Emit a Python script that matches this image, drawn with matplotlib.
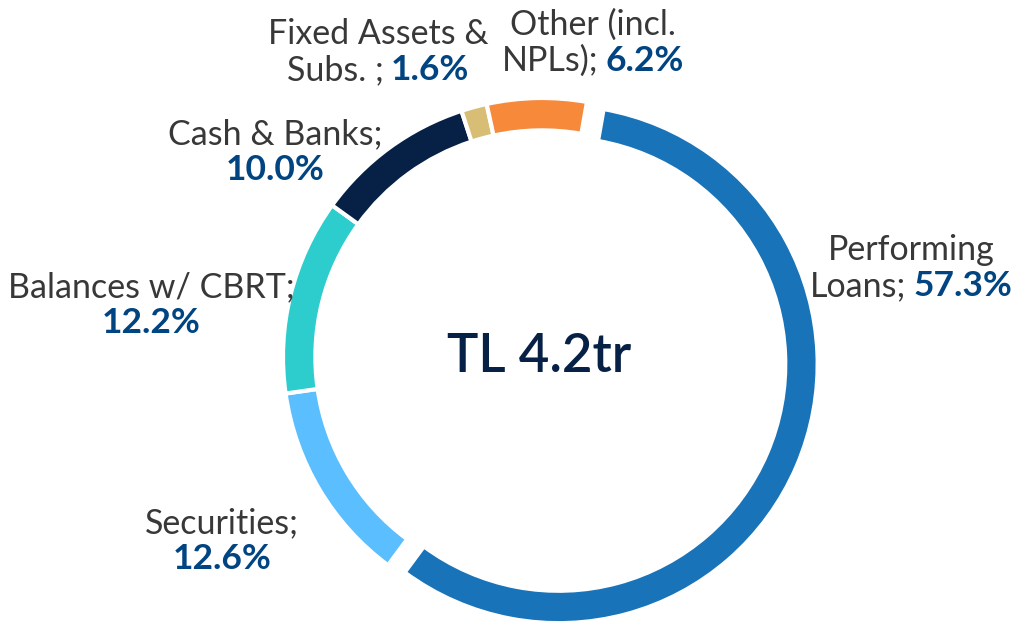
import matplotlib
matplotlib.use("Agg")
import matplotlib.pyplot as plt
from matplotlib.offsetbox import TextArea, HPacker, VPacker, AnnotationBbox

# asset breakdown (share of total, %)
categories = ["Performing Loans", "Securities", "Balances w/ CBRT",
              "Cash & Banks", "Fixed Assets & Subs.", "Other (incl. NPLs)"]
shares = [57.3, 12.6, 12.2, 10.0, 1.6, 6.2]
line1 = ["Performing", "Securities;", "Balances w/ CBRT;",
         "Cash & Banks;", "Fixed Assets &", "Other (incl."]
line2 = ["Loans;", "", "", "", "Subs. ;", "NPLs);"]
colors = ["#1973B8", "#5BBEFF", "#2DCCCD", "#072146", "#D8BE75", "#F7893B"]
total_label = "TL 4.2tr"

# label block centres in pixels (from top-left)
label_pos = [(911, 268), (222, 541), (151, 305), (275, 152), (378, 52), (593, 43)]

W, H = 1018, 625
cx, cy, R = 542, 357, 259

fig = plt.figure(figsize=(W / 100, H / 100), dpi=100)
ax = fig.add_axes([0, 0, 1, 1])

explode = [0.07] + [0] * (len(shares) - 1)
ax.pie(shares, colors=colors, startangle=80, counterclock=False,
       explode=explode, radius=1,
       wedgeprops=dict(width=0.125, edgecolor="white", linewidth=3))
ax.set_xlim(-cx / R, (W - cx) / R)
ax.set_ylim(-(H - cy) / R, cy / R)
ax.set_aspect("equal")
ax.axis("off")

ax.text(-0.01, 0, total_label, ha="center", va="center", fontsize=38,
        color="#072146", fontweight="semibold", family="Lato")

name_props = dict(fontsize=24.5, color="#383838", family="Lato", fontweight="normal")
pct_props = dict(fontsize=25.5, color="#004481", family="Lato", fontweight="bold")

for i in range(len(shares)):
    pct = f"{shares[i]:.1f}%"
    top = HPacker(children=[TextArea(line1[i], textprops=name_props)], pad=0, sep=0)
    if line2[i]:
        bottom = HPacker(children=[TextArea(line2[i], textprops=name_props),
                                   TextArea(pct, textprops=pct_props)],
                         pad=0, sep=5, align="baseline")
    else:
        bottom = HPacker(children=[TextArea(pct, textprops=pct_props)], pad=0, sep=0)
    box = VPacker(children=[top, bottom], align="center", pad=0, sep=3)
    px, py = label_pos[i]
    ab = AnnotationBbox(box, (px, H - py), xycoords="figure pixels",
                        frameon=False, box_alignment=(0.5, 0.5), pad=0)
    ax.add_artist(ab)

fig.savefig("out.png", dpi=100)
